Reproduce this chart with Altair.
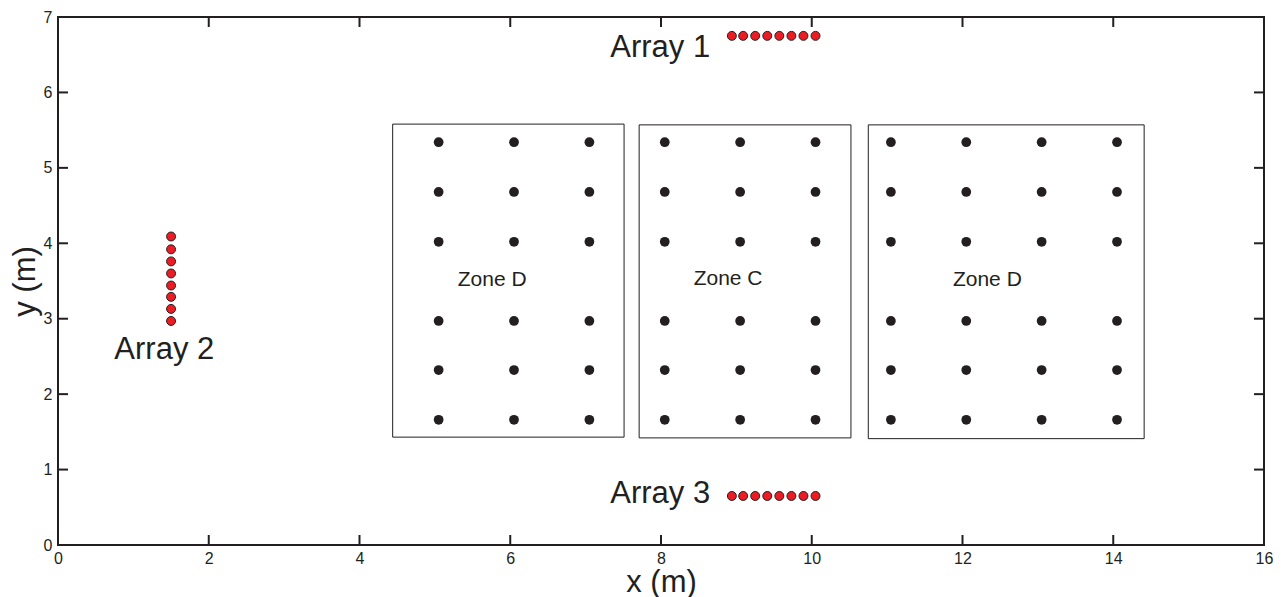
import itertools
import altair as alt
import pandas as pd

INK = "#231f20"
RED = "#ec1c24"
FONT = "Liberation Sans"

# Sensor grid inside the zones (x columns, y rows), metres
grid_x = [5.05, 6.05, 7.05, 8.05, 9.05, 10.05, 11.05, 12.05, 13.05, 14.05]
grid_y = [1.66, 2.32, 2.97, 4.02, 4.68, 5.34]

# Linear arrays
array_h_x = [8.94, 9.09, 9.25, 9.41, 9.57, 9.73, 9.89, 10.05]
array1_y = 6.75
array3_y = 0.65
array2_x = 1.50
array2_y = [2.97, 3.13, 3.29, 3.44, 3.60, 3.76, 3.92, 4.09]

# Zone outlines
zone_names = ["Zone D", "Zone C", "Zone D"]
zone_x0 = [4.44, 7.71, 10.75]
zone_x1 = [7.51, 10.52, 14.41]
zone_y0 = [1.43, 1.42, 1.41]
zone_y1 = [5.58, 5.57, 5.57]
zone_label_x = [5.76, 8.89, 12.33]
zone_label_y = [3.51, 3.52, 3.51]

# Array labels
array_labels = ["Array 1", "Array 2", "Array 3"]
array_label_x = [7.99, 1.41, 7.99]
array_label_y = [6.59, 2.59, 0.67]

x_ticks = [0, 2, 4, 6, 8, 10, 12, 14, 16]
y_ticks = [0, 1, 2, 3, 4, 5, 6, 7]

W, H = 1206, 528
TICK = 10

grid_df = pd.DataFrame(list(itertools.product(grid_x, grid_y)), columns=["x", "y"])
red_df = pd.DataFrame(
    [{"x": x, "y": array1_y} for x in array_h_x]
    + [{"x": x, "y": array3_y} for x in array_h_x]
    + [{"x": array2_x, "y": y} for y in array2_y]
)
zones_df = pd.DataFrame({
    "name": zone_names, "x0": zone_x0, "x1": zone_x1, "y0": zone_y0, "y1": zone_y1,
    "lx": zone_label_x, "ly": zone_label_y,
})
labels_df = pd.DataFrame({"text": array_labels, "x": array_label_x, "y": array_label_y})
xt_df = pd.DataFrame({"t": x_ticks})
yt_df = pd.DataFrame({"t": y_ticks})

xscale = alt.Scale(domain=[0, 16], nice=False, zero=False)
yscale = alt.Scale(domain=[0, 7], nice=False, zero=False)

x_axis = alt.Axis(values=x_ticks, format="d", ticks=False, domain=False, grid=False,
                  labelFlush=False, labelFontSize=16, labelPadding=5,
                  labelColor=INK, labelFont=FONT,
                  title="x (m)", titleFontSize=31, titleFontWeight="normal",
                  titleColor=INK, titleFont=FONT, titlePadding=1)
y_axis = alt.Axis(values=y_ticks, format="d", ticks=False, domain=False, grid=False,
                  labelFlush=False, labelFontSize=16, labelPadding=6,
                  labelColor=INK, labelFont=FONT,
                  title="y (m)", titleFontSize=31, titleFontWeight="normal",
                  titleColor=INK, titleFont=FONT, titlePadding=2)

base = alt.Chart(grid_df)

zones = alt.Chart(zones_df).mark_rect(fill=None, stroke=INK, strokeWidth=1).encode(
    x=alt.X("x0:Q", scale=xscale, axis=x_axis),
    x2="x1:Q",
    y=alt.Y("y0:Q", scale=yscale, axis=y_axis),
    y2="y1:Q",
)

zone_text = alt.Chart(zones_df).mark_text(
    fontSize=21, font=FONT, color=INK, baseline="middle", align="center"
).encode(x=alt.X("lx:Q", scale=xscale), y=alt.Y("ly:Q", scale=yscale), text="name:N")

grid_pts = base.mark_circle(size=95, color=INK, opacity=1).encode(
    x=alt.X("x:Q", scale=xscale), y=alt.Y("y:Q", scale=yscale)
)

red_pts = alt.Chart(red_df).mark_point(
    shape="circle", size=80, filled=True, fill=RED, stroke=INK, strokeWidth=1, opacity=1
).encode(x=alt.X("x:Q", scale=xscale), y=alt.Y("y:Q", scale=yscale))

array_text = alt.Chart(labels_df).mark_text(
    fontSize=31, font=FONT, color=INK, baseline="middle", align="center"
).encode(x=alt.X("x:Q", scale=xscale), y=alt.Y("y:Q", scale=yscale), text="text:N")

# Inward ticks on all four sides of the frame
tick_style = dict(color=INK, strokeWidth=2)
bottom_ticks = alt.Chart(xt_df).mark_rule(**tick_style).encode(
    x=alt.X("t:Q", scale=xscale), y=alt.value(H), y2=alt.value(H - TICK))
top_ticks = alt.Chart(xt_df).mark_rule(**tick_style).encode(
    x=alt.X("t:Q", scale=xscale), y=alt.value(0), y2=alt.value(TICK))
left_ticks = alt.Chart(yt_df).mark_rule(**tick_style).encode(
    y=alt.Y("t:Q", scale=yscale), x=alt.value(0), x2=alt.value(TICK))
right_ticks = alt.Chart(yt_df).mark_rule(**tick_style).encode(
    y=alt.Y("t:Q", scale=yscale), x=alt.value(W), x2=alt.value(W - TICK))

chart = alt.layer(
    zones, zone_text, grid_pts, red_pts, array_text,
    bottom_ticks, top_ticks, left_ticks, right_ticks,
).properties(
    width=W, height=H,
    autosize=alt.AutoSizeParams(type="none"),
    padding={"left": 58, "top": 17, "right": 19, "bottom": 52},
    background="white",
).configure_view(stroke=INK, strokeWidth=2)

chart.save("out.html", embed_options={"renderer": "svg", "actions": False})
